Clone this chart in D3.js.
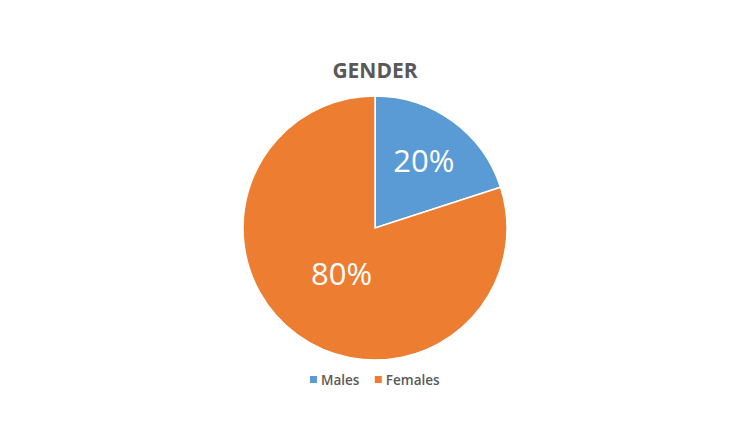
<!DOCTYPE html>
<html>
<head>
<meta charset="utf-8">
<script src="https://cdn.jsdelivr.net/npm/d3@7"></script>
<style>
  body { margin: 0; background: #fff; }
  svg { display: block; }
</style>
</head>
<body>
<script>
// chart data
var categories = ["Males", "Females"];
var values = [20, 80];
var colors = ["#5B9BD5", "#ED7D31"];
var title = "GENDER";

var width = 740, height = 444,
    cx = 375, cy = 228, radius = 132;

var svg = d3.select("body").append("svg")
  .attr("width", width)
  .attr("height", height)
  .style("font-family", "'Open Sans', sans-serif");

svg.append("text")
  .attr("x", cx)
  .attr("y", 78)
  .attr("text-anchor", "middle")
  .attr("font-size", 21)
  .attr("font-weight", "bold")
  .attr("fill", "#595959")
  .text(title);

var data = categories.map(function(c, i) { return { key: c, value: values[i] }; });

var pie = d3.pie().sort(null).value(function(d) { return d.value; });
var arc = d3.arc().innerRadius(0).outerRadius(radius);

var g = svg.append("g")
  .attr("transform", "translate(" + cx + "," + cy + ")");

var slices = pie(data);

g.selectAll("path")
  .data(slices)
  .enter().append("path")
  .attr("d", arc)
  .attr("fill", function(d, i) { return colors[i]; })
  .attr("stroke", "#fff")
  .attr("stroke-width", 1.5);

// label distance from centre, excel "best fit" style
function labelPos(d) {
  var a = (d.startAngle + d.endAngle) / 2;
  var r = d.data.value > 50 ? radius * 0.43 : radius * 0.63;
  return [Math.sin(a) * r, -Math.cos(a) * r];
}

g.selectAll("text.lbl")
  .data(slices)
  .enter().append("text")
  .attr("class", "lbl")
  .attr("transform", function(d) { return "translate(" + labelPos(d) + ")"; })
  .attr("dy", "0.36em")
  .attr("text-anchor", "middle")
  .attr("font-size", 31)
  .attr("fill", "#fff")
  .text(function(d) { return d.data.value + "%"; });

// legend
var legend = svg.append("g")
  .attr("font-size", 13.5)
  .attr("font-weight", 600)
  .attr("fill", "#595959");

var items = legend.selectAll("g")
  .data(data)
  .enter().append("g");

items.append("rect")
  .attr("width", 7)
  .attr("height", 7)
  .attr("y", -5)
  .attr("fill", function(d, i) { return colors[i]; });

items.append("text")
  .attr("x", 11)
  .attr("y", 0)
  .attr("dy", "0.3em")
  .attr("fill", "#595959")
  .text(function(d) { return d.key; });

var xoff = 0;
items.each(function() {
  d3.select(this).attr("transform", "translate(" + xoff + ",0)");
  xoff += this.getBBox().width + 15;
});
var lw = xoff - 15;
legend.attr("transform", "translate(" + (cx - lw / 2) + ",381)");
</script>
</body>
</html>
